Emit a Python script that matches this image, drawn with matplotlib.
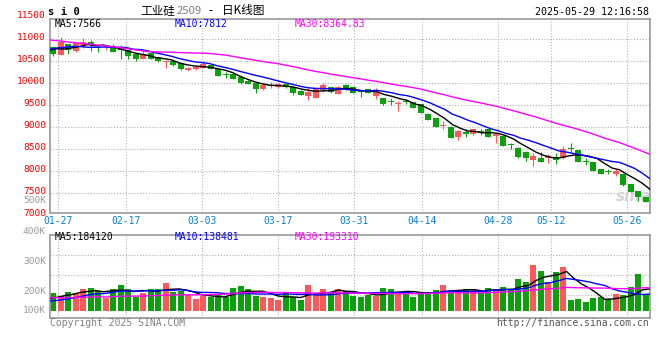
import numpy as np
import matplotlib
matplotlib.use('Agg')
import matplotlib.pyplot as plt

# daily candles of si0 (工业硅2509), one per trading day, 01-24 .. 05-29
open_ = [10815, 10640, 10885, 10730, 10865, 10925, 10795, 10810, 10840, 10760,
         10745, 10650, 10555, 10670, 10585, 10470, 10500, 10445, 10300, 10310,
         10345, 10415, 10320, 10195, 10200, 10140, 10040, 10005, 9870, 9925,
         9900, 9975, 9900, 9820, 9710, 9665, 9840, 9900, 9750, 9950,
         9900, 9800, 9855, 9700, 9650, 9575, 9515, 9575, 9555, 9520,
         9300, 9200, 9010, 9005, 8775, 8890, 8830, 8910, 8950, 8790,
         8790, 8595, 8525, 8435, 8245, 8295, 8280, 8320, 8280, 8515,
         8470, 8215, 8190, 8040, 7985, 7925, 7925, 7695, 7545, 7395]
high = [10850, 11050, 10895, 10910, 11015, 10975, 10865, 10865, 10880, 10860,
        10760, 10660, 10740, 10690, 10595, 10520, 10510, 10455, 10370, 10375,
        10490, 10440, 10330, 10255, 10215, 10150, 10060, 10010, 9990, 10025,
        9985, 9985, 9910, 9830, 9875, 9860, 10005, 9915, 9925, 9975,
        9910, 9830, 9870, 9875, 9660, 9660, 9595, 9625, 9565, 9530,
        9310, 9210, 9135, 9010, 8920, 8945, 8955, 8945, 8960, 8865,
        8800, 8640, 8530, 8440, 8410, 8435, 8380, 8395, 8565, 8625,
        8480, 8280, 8195, 8045, 8030, 8030, 7955, 7700, 7550, 7400]
low = [10620, 10625, 10650, 10700, 10805, 10735, 10710, 10750, 10700, 10545,
       10550, 10500, 10550, 10545, 10480, 10350, 10395, 10285, 10275, 10300,
       10340, 10315, 10160, 10120, 10085, 9975, 9965, 9780, 9840, 9880,
       9895, 9880, 9725, 9715, 9610, 9660, 9800, 9780, 9740, 9840,
       9760, 9690, 9760, 9630, 9500, 9495, 9365, 9510, 9435, 9305,
       9150, 9000, 8950, 8750, 8700, 8760, 8820, 8815, 8770, 8640,
       8555, 8495, 8280, 8220, 8115, 8200, 8185, 8145, 8275, 8435,
       8200, 8130, 7995, 7920, 7925, 7880, 7650, 7520, 7320, 7285]
close = [10650, 10940, 10750, 10900, 10925, 10860, 10790, 10840, 10710, 10740,
         10610, 10540, 10665, 10555, 10505, 10500, 10400, 10320, 10345, 10365,
         10430, 10325, 10165, 10175, 10095, 10005, 9975, 9860, 9955, 9935,
         9975, 9900, 9780, 9725, 9785, 9855, 9950, 9800, 9915, 9855,
         9765, 9790, 9765, 9840, 9520, 9565, 9525, 9565, 9440, 9310,
         9160, 9005, 9020, 8755, 8910, 8830, 8950, 8870, 8775, 8835,
         8565, 8585, 8320, 8300, 8345, 8205, 8345, 8245, 8495, 8505,
         8205, 8205, 8000, 7925, 7975, 8000, 7675, 7525, 7395, 7285]
volume = [150, 123, 158, 150, 180, 189, 164, 109, 180, 213,
          180, 117, 150, 180, 180, 230, 153, 164, 129, 98,
          125, 115, 129, 112, 189, 205, 180, 123, 115, 107,
          93, 148, 115, 90, 213, 134, 178, 156, 178, 164,
          125, 115, 131, 125, 189, 180, 156, 156, 115, 145,
          156, 172, 213, 145, 164, 180, 172, 156, 189, 172,
          197, 180, 262, 238, 377, 328, 238, 320, 361, 90,
          98, 74, 107, 115, 98, 139, 131, 197, 303, 139]  # thousands

# days before the window, estimated from where the MA lines start
pre_close = [11450, 11430, 11420, 11400, 11390, 11380, 11370, 11360, 11350, 11340,
             11320, 11290, 11275, 10700, 10600, 10550, 10500, 10520, 10500, 10515,
             10600, 10640, 10685, 10980, 10995, 10800, 10780, 10760, 10760]
pre_volume = [130, 125, 135, 120, 140, 115, 125, 130, 110, 120,
              125, 135, 115, 120, 130, 110, 125, 120, 115, 115,
              70, 65, 55, 60, 50, 75, 90, 100, 105]

date_labels = ['01-27', '02-17', '03-03', '03-17', '03-31', '04-14', '04-28', '05-12', '05-26']
date_idx = [1, 10, 20, 30, 40, 49, 59, 66, 76]
price_ticks = [11500, 11000, 10500, 10000, 9500, 9000, 8500, 8000, 7500, 7000]
vol_labels = ['500K', '400K', '300K', '200K', '100K']
ma_main_text = ['MA5:7566', 'MA10:7812', 'MA30:8364.83']
ma_vol_text = ['MA5:184120', 'MA10:138481', 'MA30:193310']

RED = '#fa5a5a'
GREEN = '#0ca00c'
GRID = '#b0b0b0'
SPINE = '#a0a0a0'
MA_COLORS = ['black', '#0000ff', '#ff00ff']
MONO = 'DejaVu Sans Mono'


def moving_avg(values, prev, n):
    s = np.concatenate([prev, values]).astype(float)
    out = np.convolve(s, np.ones(n) / n, mode='valid')
    return out[-len(values):]


o = np.array(open_, dtype=float)
c = np.array(close, dtype=float)
h = np.array(high, dtype=float)
l = np.array(low, dtype=float)
v = np.array(volume, dtype=float) * 1000
n = len(c)
xb = np.arange(n) + 0.4             # bar centres
xl = np.arange(n) * n / (n - 1)     # MA lines / date grid span the full width
date_pos = np.array(date_idx) * n / (n - 1)
cols = [RED if c[i] >= o[i] else GREEN for i in range(n)]

fig = plt.figure(figsize=(6.6, 3.6), dpi=100)
fig.patch.set_facecolor('white')
ax = fig.add_axes([50 / 660, 1 - 213 / 360, 600 / 660, 194 / 360])
axv = fig.add_axes([50 / 660, 1 - 318 / 360, 600 / 660, 83.3 / 360])

for a in (ax, axv):
    for s in a.spines.values():
        s.set_color(SPINE)
        s.set_linewidth(1.3)
    a.set_axisbelow(True)
    a.grid(True, color=GRID, linestyle=(0, (1, 1.6)), linewidth=0.8)
    a.set_xlim(0, n)

# candles
body = np.maximum(np.abs(c - o), 22)
ax.vlines(xb, l, h, colors=cols, linewidth=0.8, zorder=2)
ax.bar(xb, body, bottom=np.minimum(o, c), width=0.8, color=cols, linewidth=0, zorder=3)
for k, per in enumerate([5, 10, 30]):
    ax.plot(xl, moving_avg(c, pre_close, per), color=MA_COLORS[k], lw=1.0, zorder=4)

ax.set_ylim(7038, 11455)
ax.set_yticks(price_ticks[1:-1])
ax.set_xticks(date_pos, date_labels)
ax.tick_params(axis='x', length=0, pad=2.5, labelsize=7, labelcolor='#0b80d4')
ax.tick_params(axis='y', length=0, labelleft=False)
for lab in ax.get_xticklabels():
    lab.set_family(MONO)
for p in price_ticks:
    ax.annotate(str(p), xy=(0, p), xycoords=('axes fraction', 'data'), xytext=(-2.9, 1.2),
                textcoords='offset points', ha='right', va='center', color='#f00000',
                fontsize=6.8, family=MONO, annotation_clip=False)
ax.text(0.973, 0.085, 'sina', transform=ax.transAxes, ha='center', va='center',
        fontsize=11, style='italic', weight='bold', color='#d4d4d4', zorder=1)

# volume
axv.bar(xb, v, width=0.8, color=cols, linewidth=0, zorder=2)
for k, per in enumerate([5, 10, 30]):
    axv.plot(xl, moving_avg(v, np.array(pre_volume) * 1000, per), color=MA_COLORS[k], lw=1.0, zorder=3)
axv.set_ylim(-57e3, 626e3)
axv.set_yticks([131e3, 295e3, 459e3])
axv.set_xticks(date_pos)
axv.tick_params(length=0, labelleft=False, labelbottom=False)
for lab, yf in zip(vol_labels, [1.405, 1.044, 0.684, 0.324, 0.096]):
    axv.annotate(lab, xy=(0, yf), xycoords='axes fraction', xytext=(-2.9, 0),
                 textcoords='offset points', ha='right', va='center', color='#999999',
                 fontsize=6.8, family=MONO, annotation_clip=False)

# MA captions
for k, xpix in enumerate([54.5, 174.5, 294.5]):
    fig.text(xpix / 660, 1 - 23.7 / 360, ma_main_text[k], color=MA_COLORS[k],
             fontsize=7, family=MONO, ha='left', va='center')
    fig.text(xpix / 660, 1 - 237.3 / 360, ma_vol_text[k], color=MA_COLORS[k],
             fontsize=7, family=MONO, ha='left', va='center')

# header
fig.text(48.5 / 660, 1 - 12 / 360, 's i 0', fontsize=7.6, weight='bold', family=MONO,
         ha='left', va='center')
cjk = ['Noto Sans CJK SC', 'DejaVu Sans']
fig.text(140 / 660, 1 - 10.5 / 360, '工业硅', fontsize=8.4, family=cjk, ha='left', va='center')
fig.text(176.5 / 660, 1 - 10.5 / 360, '2509', fontsize=8.2, color='#808080', family=cjk,
         ha='left', va='center')
fig.text(208 / 660, 1 - 10.5 / 360, '-', fontsize=8.4, family=cjk, ha='left', va='center')
fig.text(221.5 / 660, 1 - 10.5 / 360, '日K线图', fontsize=8.4, family=cjk, ha='left', va='center')
fig.text(649 / 660, 1 - 12.3 / 360, '2025-05-29 12:16:58', fontsize=7.2, family=MONO,
         ha='right', va='center')

# footer
fig.text(50 / 660, 1 - 323.3 / 360, 'Copyright 2025 SINA.COM', fontsize=7, family=MONO,
         color='#808080', ha='left', va='center')
fig.text(649 / 660, 1 - 323.3 / 360, 'http://finance.sina.com.cn', fontsize=7, family=MONO,
         color='#555555', ha='right', va='center')

fig.savefig('out.png', dpi=100, facecolor='white')
